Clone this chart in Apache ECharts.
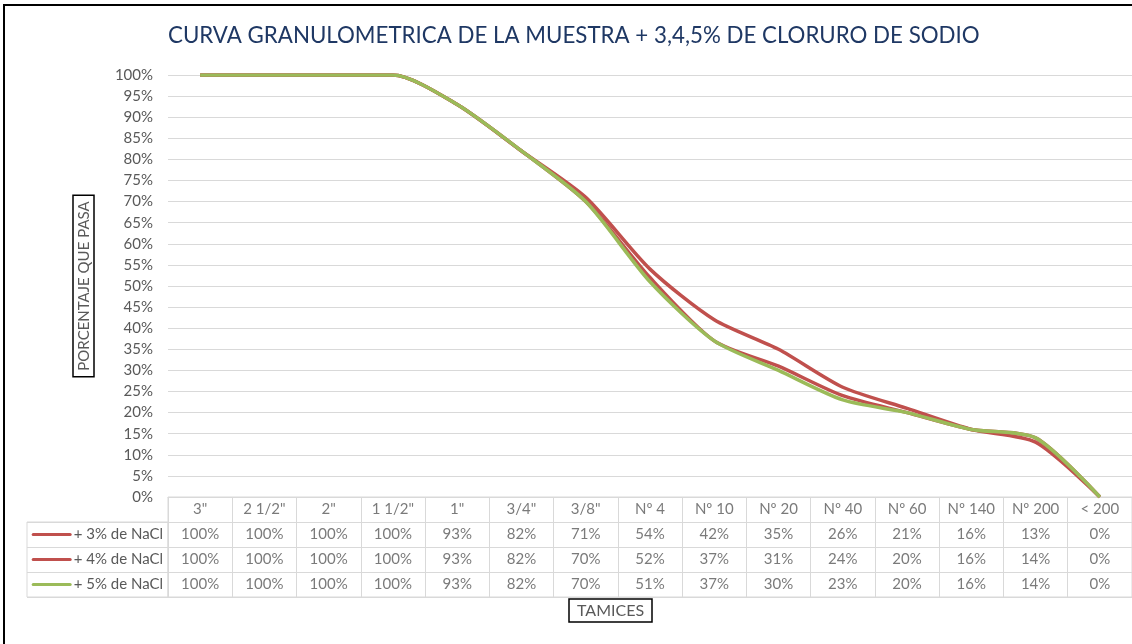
<!DOCTYPE html>
<html>
<head>
<meta charset="utf-8">
<script src="https://cdn.jsdelivr.net/npm/echarts@6/dist/echarts.min.js"></script>
<style>
  html, body { margin: 0; padding: 0; background: #fff; }
  #chart { width: 1132px; height: 644px; }
</style>
</head>
<body>
<div id="chart"></div>
<script>
// tamices (categorias del eje x)
const categories = ['3"', '2 1/2"', '2"', '1 1/2"', '1"', '3/4"', '3/8"', 'Nº 4', 'Nº 10', 'Nº 20', 'Nº 40', 'Nº 60', 'Nº 140', 'Nº 200', '< 200'];
// porcentaje que pasa
const nacl3 = [100, 100, 100, 100, 93, 82, 71, 54, 42, 35, 26, 21, 16, 13, 0];
const nacl4 = [100, 100, 100, 100, 93, 82, 70, 52, 37, 31, 24, 20, 16, 14, 0];
const nacl5 = [100, 100, 100, 100, 93, 82, 70, 51, 37, 30, 23, 20, 16, 14, 0];
const seriesNames = ['+ 3% de NaCl', '+ 4% de NaCl', '+ 5% de NaCl'];
const yMin = 0;
const yMax = 100;
const yStep = 5;

const colors = ['#C0504D', '#C0504D', '#9BBB59'];
const allData = [nacl3, nacl4, nacl5];
const gray = '#595959';
const lineGray = '#D9D9D9';
const font = 'Lato';

const chart = echarts.init(document.getElementById('chart'));

// filas de la tabla de datos
const tableRows = ['hdr'].concat(seriesNames);
const headerCells = categories.map((c, i) => [i, 0, c]);
const valueCells = [];
allData.forEach((arr, s) => {
  arr.forEach((v, i) => valueCells.push([i, s + 1, v + '%']));
});

const rich = { t: { color: gray, fontSize: 15, fontFamily: font, padding: [0, 0, 0, 2] } };
colors.forEach((c, i) => {
  rich['k' + i] = { width: 40, height: 3, backgroundColor: c, borderRadius: 2 };
});

const lineSeries = allData.map((arr, s) => ({
  name: seriesNames[s],
  type: 'line',
  xAxisIndex: 0,
  yAxisIndex: 0,
  data: arr,
  smooth: 0.25,
  showSymbol: false,
  lineStyle: { color: colors[s], width: 3.5 },
  itemStyle: { color: colors[s] },
  silent: true,
  z: 3 + s
}));

const textSeries = (data) => ({
  type: 'scatter',
  xAxisIndex: 1,
  yAxisIndex: 1,
  data: data,
  symbolSize: 2,
  itemStyle: { color: 'rgba(0,0,0,0)' },
  silent: true,
  label: {
    show: true,
    position: 'inside',
    formatter: (p) => p.value[2],
    color: gray,
    fontSize: 15,
    fontFamily: font
  }
});

chart.setOption({
  animation: false,
  backgroundColor: '#fff',
  textStyle: { fontFamily: font },
  title: [
    {
      text: 'CURVA GRANULOMETRICA DE LA MUESTRA + 3,4,5% DE CLORURO DE SODIO',
      left: 163,
      top: 20,
      textStyle: { color: '#1F3864', fontSize: 22.3, fontWeight: 'normal', fontFamily: font }
    },
    {
      text: 'TAMICES',
      left: 569,
      top: 599,
      padding: [4, 8, 3, 8],
      borderColor: '#000',
      borderWidth: 1.5,
      textStyle: { color: gray, fontSize: 16, fontWeight: 'normal', fontFamily: font }
    }
  ],
  graphic: [
    {
      type: 'rect',
      shape: { x: 4, y: 5, width: 1200, height: 700 },
      style: { fill: 'none', stroke: '#000', lineWidth: 2 },
      silent: true
    }
  ],
  grid: [
    { left: 168, top: 75, width: 969, height: 422 },
    { left: 168, top: 497, width: 969, height: 100, show: true, borderColor: lineGray, borderWidth: 1 },
    { left: 27, top: 522, width: 141, height: 75, show: true, borderColor: lineGray, borderWidth: 1 }
  ],
  xAxis: [
    {
      type: 'category',
      gridIndex: 0,
      data: categories,
      boundaryGap: true,
      axisLabel: { show: false },
      axisTick: { show: false },
      axisLine: { lineStyle: { color: lineGray } },
      splitLine: { show: false }
    },
    {
      type: 'category',
      gridIndex: 1,
      data: categories,
      axisLabel: { show: false },
      axisTick: { show: false },
      axisLine: { show: false },
      splitLine: { show: true, interval: 0, lineStyle: { color: lineGray } }
    },
    { type: 'value', gridIndex: 2, show: false }
  ],
  yAxis: [
    {
      type: 'value',
      gridIndex: 0,
      min: yMin,
      max: yMax,
      interval: yStep,
      name: 'PORCENTAJE QUE PASA',
      nameLocation: 'middle',
      nameRotate: 90,
      nameGap: 74,
      nameTextStyle: {
        color: gray, fontSize: 15, fontFamily: font,
        borderColor: '#000', borderWidth: 1.5, padding: [4, 6, 2, 6]
      },
      axisLabel: { formatter: '{value}%', color: gray, fontSize: 15, fontFamily: font, margin: 15 },
      axisLine: { show: false },
      axisTick: { show: false },
      splitLine: { lineStyle: { color: lineGray, width: 1 } }
    },
    {
      type: 'category',
      gridIndex: 1,
      data: tableRows,
      inverse: true,
      axisLine: { show: false },
      axisTick: { show: false },
      splitLine: { show: true, interval: 0, lineStyle: { color: lineGray } },
      axisLabel: {
        margin: 5,
        interval: 0,
        formatter: (v, i) => (i === 0 ? '' : '{k' + (i - 1) + '|}{t|' + v + '}'),
        rich: rich
      }
    },
    {
      type: 'category',
      gridIndex: 2,
      data: seriesNames,
      inverse: true,
      axisLine: { show: false },
      axisTick: { show: false },
      axisLabel: { show: false },
      splitLine: { show: true, interval: 0, lineStyle: { color: lineGray } }
    }
  ],
  series: lineSeries.concat([textSeries(headerCells), textSeries(valueCells)])
});
</script>
</body>
</html>
